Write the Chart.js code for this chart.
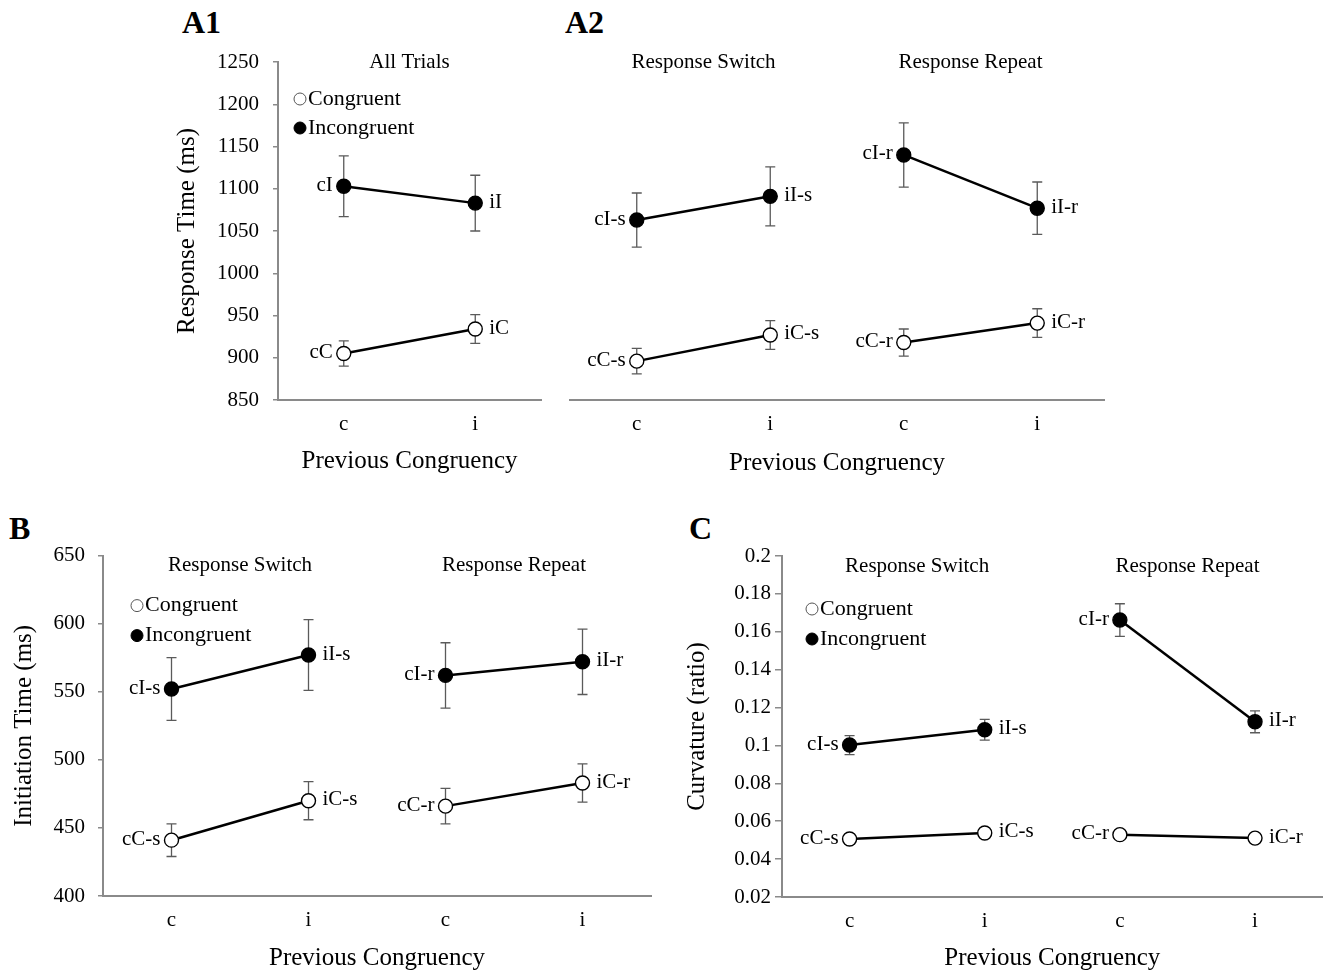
<!DOCTYPE html>
<html>
<head>
<title>Congruency sequence effects</title>
<script src="https://cdn.jsdelivr.net/npm/chart.js@4"></script>
<style>
  body {
    margin: 0;
    background: #fff;
    width: 1331px;
    height: 970px;
    position: relative;
    overflow: hidden;
    font-family: "Liberation Serif", "Times New Roman", serif;
  }
  canvas, .tag { position: absolute; }
  .tag { font-weight: bold; font-size: 32px; line-height: 32px; color: #000; }
</style>
</head>
<body>
<div class="tag" style="left:182px;top:6px">A1</div>
<div class="tag" style="left:565px;top:6px">A2</div>
<div class="tag" style="left:9px;top:512px">B</div>
<div class="tag" style="left:689px;top:512px">C</div>

<canvas id="chartA1" width="410" height="460" style="left:150px;top:30px"></canvas>
<canvas id="chartA2" width="560" height="460" style="left:560px;top:30px"></canvas>
<canvas id="chartB" width="665" height="440" style="left:0px;top:530px"></canvas>
<canvas id="chartC" width="661" height="440" style="left:670px;top:530px"></canvas>

<script>
// categories
const prevCongruency = ['c', 'i'];
const splitCategories = ['c', 'i', 'c', 'i'];

// A1: response time, all trials (ms) and error bars
const a1Congruent = [905, 934];
const a1CongruentErr = [15, 17];
const a1Incongruent = [1103, 1083];
const a1IncongruentErr = [36, 33];

// A2: response time by response switch / repeat (ms)
const a2CongSwitch = [896, 927];
const a2CongSwitchErr = [15, 17];
const a2CongRepeat = [918, 941];
const a2CongRepeatErr = [16, 17];
const a2IncSwitch = [1063, 1091];
const a2IncSwitchErr = [32, 35];
const a2IncRepeat = [1140, 1077];
const a2IncRepeatErr = [38, 31];

// B: initiation time (ms)
const bCongSwitch = [441, 470];
const bCongSwitchErr = [12, 14];
const bCongRepeat = [466, 483];
const bCongRepeatErr = [13, 14];
const bIncSwitch = [552, 577];
const bIncSwitchErr = [23, 26];
const bIncRepeat = [562, 572];
const bIncRepeatErr = [24, 24];

// C: curvature (ratio)
const cCongSwitch = [0.0506, 0.0538];
const cCongSwitchErr = [0.002, 0.002];
const cCongRepeat = [0.0529, 0.0511];
const cCongRepeatErr = [0.002, 0.002];
const cIncSwitch = [0.1002, 0.1083];
const cIncSwitchErr = [0.005, 0.0055];
const cIncRepeat = [0.1662, 0.1125];
const cIncRepeatErr = [0.0086, 0.0058];

Chart.defaults.font.family = '"Liberation Serif", "Times New Roman", serif';
Chart.defaults.color = '#000';

const AXIS = '#8a8a8a';
const LABEL_FONT = '21px "Liberation Serif", serif';

function pad(arr, start, total) {
  const out = new Array(total).fill(null);
  arr.forEach((v, i) => { out[start + i] = v; });
  return out;
}

function names(cls, suffix) {
  return prevCongruency.map(p => p + cls + suffix);
}

function series(vals, errs, cls, suffix, start, total) {
  const filled = cls === 'I';
  return {
    data: pad(vals, start, total),
    errors: pad(errs, start, total),
    pointNames: pad(names(cls, suffix), start, total),
    borderColor: '#000',
    borderWidth: 2.5,
    pointRadius: 7,
    pointBorderWidth: 1.4,
    pointBorderColor: '#000',
    pointBackgroundColor: filled ? '#000' : '#fff',
    fill: false,
    tension: 0
  };
}

// error bars, point labels, sub titles and the legend
const decorations = {
  id: 'decorations',
  beforeDatasetsDraw(chart) {
    const ctx = chart.ctx;
    const y = chart.scales.y;
    ctx.save();
    ctx.strokeStyle = '#5a5a5a';
    ctx.lineWidth = 1.3;
    chart.data.datasets.forEach((ds, di) => {
      const meta = chart.getDatasetMeta(di);
      ds.data.forEach((v, i) => {
        if (v == null) return;
        const e = ds.errors[i];
        const x = meta.data[i].x;
        const top = y.getPixelForValue(v + e);
        const bot = y.getPixelForValue(v - e);
        ctx.beginPath();
        ctx.moveTo(x, top); ctx.lineTo(x, bot);
        ctx.moveTo(x - 5, top); ctx.lineTo(x + 5, top);
        ctx.moveTo(x - 5, bot); ctx.lineTo(x + 5, bot);
        ctx.stroke();
      });
    });
    ctx.restore();
  },
  afterDatasetsDraw(chart, args, opts) {
    const ctx = chart.ctx;
    const area = chart.chartArea;
    const xs = chart.scales.x;
    ctx.save();
    ctx.fillStyle = '#000';
    ctx.textBaseline = 'middle';
    ctx.font = LABEL_FONT;

    // point labels
    chart.data.datasets.forEach((ds, di) => {
      const meta = chart.getDatasetMeta(di);
      ds.data.forEach((v, i) => {
        if (v == null) return;
        const pt = meta.data[i];
        if (i % 2 === 0) {
          ctx.textAlign = 'right';
          ctx.fillText(ds.pointNames[i], pt.x - 11, pt.y - 1);
        } else {
          ctx.textAlign = 'left';
          ctx.fillText(ds.pointNames[i], pt.x + 14, pt.y - 1);
        }
      });
    });

    // panel sub titles
    ctx.textAlign = 'center';
    ctx.font = '21px "Liberation Serif", serif';
    (opts.subtitles || []).forEach(s => {
      const x = (xs.getPixelForValue(s.from) + xs.getPixelForValue(s.to)) / 2;
      ctx.fillText(s.text, x, area.top + opts.subtitleDy);
    });

    // legend
    if (opts.legend) {
      const lg = opts.legend;
      const rows = [['Congruent', false], ['Incongruent', true]];
      ctx.textAlign = 'left';
      ctx.font = '22px "Liberation Serif", serif';
      rows.forEach(([label, filled], r) => {
        const cx = area.left + lg.dx;
        const cy = area.top + lg.dy + r * lg.gap;
        ctx.beginPath();
        ctx.arc(cx, cy, 6, 0, Math.PI * 2);
        ctx.fillStyle = filled ? '#000' : '#fff';
        ctx.fill();
        ctx.lineWidth = 1;
        ctx.strokeStyle = filled ? '#000' : '#555';
        ctx.stroke();
        ctx.fillStyle = '#000';
        ctx.fillText(label, cx + 8, cy);
      });
    }
    ctx.restore();
  }
};

function xAxis(height, titlePad) {
  return {
    offset: true,
    grid: { display: false, drawTicks: false },
    border: { display: true, color: AXIS, width: 2 },
    ticks: { padding: 12, font: { size: 21 }, color: '#000' },
    title: {
      display: true, text: 'Previous Congruency', color: '#000',
      font: { size: 25 }, padding: { top: 0, bottom: titlePad }
    },
    afterFit(s) { s.height = height; }
  };
}

function yAxis(cfg) {
  return {
    display: cfg.display !== false,
    min: cfg.min,
    max: cfg.max,
    grid: { display: true, drawOnChartArea: false, drawTicks: true, tickLength: cfg.tickLength || 5, color: AXIS, lineWidth: 1.5 },
    border: { display: true, color: AXIS, width: 2 },
    ticks: {
      stepSize: cfg.step, padding: cfg.tickPad, font: { size: 21 }, color: '#000',
      callback: v => String(parseFloat(Number(v).toFixed(2)))
    },
    title: {
      display: !!cfg.title, text: cfg.title || '', color: '#000',
      font: { size: 25 }, padding: { top: cfg.titlePad, bottom: 0 }
    },
    afterFit(s) { if (cfg.width) s.width = cfg.width; }
  };
}

function makeChart(id, labels, datasets, scales, padding, deco) {
  return new Chart(document.getElementById(id), {
    type: 'line',
    data: { labels, datasets },
    options: {
      responsive: false,
      animation: false,
      events: [],
      layout: { padding },
      plugins: {
        legend: { display: false },
        tooltip: { enabled: false },
        decorations: deco
      },
      scales
    },
    plugins: [decorations]
  });
}

// A1
makeChart('chartA1', prevCongruency, [
  series(a1Congruent, a1CongruentErr, 'C', '', 0, 2),
  series(a1Incongruent, a1IncongruentErr, 'I', '', 0, 2)
], {
  x: xAxis(90, 14),
  y: yAxis({ min: 850, max: 1250, step: 50, tickPad: 14, title: 'Response Time (ms)', titlePad: 22, width: 128 })
}, { top: 32, right: 19, left: 0, bottom: 0 }, {
  subtitles: [{ text: 'All Trials', from: 0, to: 1 }],
  subtitleDy: 0,
  legend: { dx: 22, dy: 37, gap: 29 }
});

// A2
makeChart('chartA2', splitCategories, [
  series(a2CongSwitch, a2CongSwitchErr, 'C', '-s', 0, 4),
  series(a2CongRepeat, a2CongRepeatErr, 'C', '-r', 2, 4),
  series(a2IncSwitch, a2IncSwitchErr, 'I', '-s', 0, 4),
  series(a2IncRepeat, a2IncRepeatErr, 'I', '-r', 2, 4)
], {
  x: xAxis(90, 12),
  y: yAxis({ display: false, min: 850, max: 1250, step: 50 })
}, { top: 32, right: 16, left: 10, bottom: 0 }, {
  subtitles: [
    { text: 'Response Switch', from: 0, to: 1 },
    { text: 'Response Repeat', from: 2, to: 3 }
  ],
  subtitleDy: 0
});

// B
makeChart('chartB', splitCategories, [
  series(bCongSwitch, bCongSwitchErr, 'C', '-s', 0, 4),
  series(bCongRepeat, bCongRepeatErr, 'C', '-r', 2, 4),
  series(bIncSwitch, bIncSwitchErr, 'I', '-s', 0, 4),
  series(bIncRepeat, bIncRepeatErr, 'I', '-r', 2, 4)
], {
  x: xAxis(74, -3),
  y: yAxis({ min: 400, max: 650, step: 50, tickPad: 13, title: 'Initiation Time (ms)', titlePad: 9, width: 103 })
}, { top: 25, right: 14, left: 0, bottom: 0 }, {
  subtitles: [
    { text: 'Response Switch', from: 0, to: 1 },
    { text: 'Response Repeat', from: 2, to: 3 }
  ],
  subtitleDy: 10,
  legend: { dx: 34, dy: 50, gap: 30 }
});

// C
makeChart('chartC', splitCategories, [
  series(cCongSwitch, cCongSwitchErr, 'C', '-s', 0, 4),
  series(cCongRepeat, cCongRepeatErr, 'C', '-r', 2, 4),
  series(cIncSwitch, cIncSwitchErr, 'I', '-s', 0, 4),
  series(cIncRepeat, cIncRepeatErr, 'I', '-r', 2, 4)
], {
  x: xAxis(73, -3),
  y: yAxis({ min: 0.02, max: 0.2, step: 0.02, tickPad: 4, tickLength: 7, title: 'Curvature (ratio)', titlePad: 12, width: 112 })
}, { top: 26, right: 0, left: 0, bottom: 0 }, {
  subtitles: [
    { text: 'Response Switch', from: 0, to: 1 },
    { text: 'Response Repeat', from: 2, to: 3 }
  ],
  subtitleDy: 10,
  legend: { dx: 30, dy: 53, gap: 30 }
});
</script>
</body>
</html>
